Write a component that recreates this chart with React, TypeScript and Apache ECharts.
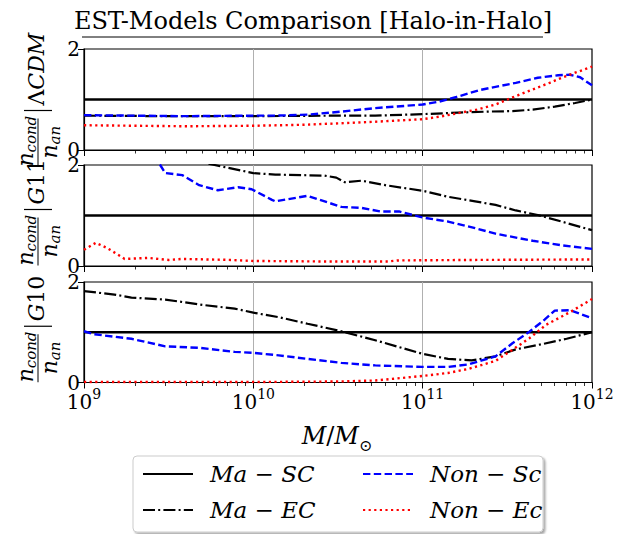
import React, { useEffect, useRef } from "react";
import * as echarts from "echarts";

const FONT = "DejaVu Serif";

// x values are log10(M / M_sun)
const decades = [9, 10, 11, 12];
const minorMultipliers = [2, 3, 4, 5, 6, 7, 8, 9];
const seriesNames = ["Ma − SC", "Ma − EC", "Non − Sc", "Non − Ec"];

// Panel 1: ΛCDM
const maSC_LCDM = [[9, 1], [12, 1]];
const maEC_LCDM = [[9, 0.68], [9.5, 0.67], [10, 0.67], [10.5, 0.68], [10.72, 0.68], [11, 0.71], [11.21, 0.74], [11.38, 0.76], [11.53, 0.77], [11.65, 0.8], [11.78, 0.86], [11.9, 0.93], [12, 1.0]];
const nonSc_LCDM = [[9, 0.69], [9.3, 0.68], [9.6, 0.67], [10, 0.68], [10.13, 0.68], [10.32, 0.7], [10.52, 0.76], [10.72, 0.83], [11, 0.9], [11.1, 0.96], [11.2, 1.05], [11.34, 1.19], [11.43, 1.25], [11.55, 1.33], [11.68, 1.43], [11.8, 1.48], [11.87, 1.49], [11.93, 1.44], [12, 1.28]];
const nonEc_LCDM = [[9, 0.49], [9.3, 0.48], [9.6, 0.47], [10, 0.48], [10.3, 0.5], [10.52, 0.53], [10.72, 0.56], [11, 0.61], [11.1, 0.66], [11.21, 0.73], [11.32, 0.8], [11.43, 0.9], [11.53, 1.04], [11.65, 1.2], [11.75, 1.33], [11.82, 1.43], [11.9, 1.53], [12, 1.65]];

// Panel 2: G11
const maSC_G11 = [[9, 1], [12, 1]];
const maEC_G11 = [[9.5, 2.2], [9.77, 2.0], [10.0, 1.84], [10.13, 1.81], [10.42, 1.79], [10.49, 1.75], [10.54, 1.66], [10.64, 1.69], [10.78, 1.6], [11, 1.49], [11.15, 1.37], [11.31, 1.28], [11.43, 1.21], [11.55, 1.1], [11.68, 1.01], [11.82, 0.88], [12, 0.71]];
const nonSc_G11 = [[9.4, 2.15], [9.45, 2.0], [9.48, 1.84], [9.58, 1.8], [9.68, 1.6], [9.79, 1.5], [9.91, 1.56], [9.99, 1.52], [10.11, 1.31], [10.13, 1.28], [10.32, 1.39], [10.52, 1.17], [10.64, 1.15], [10.75, 1.08], [10.86, 1.08], [11, 0.96], [11.15, 0.88], [11.31, 0.75], [11.43, 0.64], [11.65, 0.5], [11.82, 0.41], [12, 0.34]];
const nonEc_G11 = [[9, 0.32], [9.07, 0.46], [9.14, 0.35], [9.24, 0.14], [9.38, 0.16], [9.5, 0.12], [9.58, 0.14], [9.87, 0.12], [10, 0.1], [10.4, 0.09], [10.8, 0.09], [10.85, 0.11], [11.3, 0.12], [12, 0.13]];

// Panel 3: G10
const maSC_G10 = [[9, 1], [12, 1]];
const maEC_G10 = [[9, 1.82], [9.18, 1.75], [9.28, 1.69], [9.48, 1.65], [9.71, 1.54], [9.89, 1.47], [10, 1.39], [10.15, 1.3], [10.32, 1.17], [10.52, 1.02], [10.72, 0.84], [11, 0.57], [11.15, 0.47], [11.29, 0.44], [11.43, 0.52], [11.55, 0.66], [11.7, 0.76], [11.85, 0.87], [12, 1.0]];
const nonSc_G10 = [[9, 1.02], [9.06, 0.96], [9.28, 0.87], [9.48, 0.72], [9.68, 0.69], [9.89, 0.61], [10, 0.59], [10.15, 0.54], [10.32, 0.47], [10.52, 0.39], [10.72, 0.34], [11, 0.31], [11.15, 0.31], [11.27, 0.36], [11.35, 0.44], [11.43, 0.52], [11.53, 0.78], [11.63, 1.01], [11.72, 1.25], [11.78, 1.43], [11.87, 1.44], [12, 1.28]];
const nonEc_G10 = [[9, 0.01], [10, 0.01], [10.5, 0.02], [10.72, 0.04], [11, 0.13], [11.15, 0.19], [11.27, 0.27], [11.43, 0.43], [11.53, 0.65], [11.63, 0.88], [11.73, 1.15], [11.87, 1.4], [12, 1.66]];

const panelTags = ["LCDM", "G11", "G10"];
const panelData = [
  [maSC_LCDM, maEC_LCDM, nonSc_LCDM, nonEc_LCDM],
  [maSC_G11, maEC_G11, nonSc_G11, nonEc_G11],
  [maSC_G10, maEC_G10, nonSc_G10, nonEc_G10],
];

const gridTops = [49, 165, 282];
const gridHeights = [101, 101, 100.5];
const GRID_LEFT = 84;
const GRID_WIDTH = 508;

const lineStyles = [
  { color: "#000000", width: 2.4, type: "solid" },
  { color: "#000000", width: 2.2, type: [12, 3.2, 2, 3.2] },
  { color: "#0000ff", width: 2.4, type: [7.4, 3.4] },
  { color: "#ff0000", width: 2.4, type: [2.2, 3.4] },
];

function makeYLabel(i: number): any {
  const top = gridTops[i];
  const h = gridHeights[i];
  const cy = top + h / 2;
  const tag = panelTags[i];
  const restW = tag === "LCDM" ? 80 : 46;
  const fracW = 48;
  const total = fracW + 6 + restW;
  const fc = -total / 2 + fracW / 2;
  const restStart = -total / 2 + fracW + 6;
  const italic = { fontFamily: FONT, fontStyle: "italic", fill: "#000" };
  const restRich =
    tag === "LCDM"
      ? { text: "{u|Λ}{i|CDM}" }
      : { text: "{i|G}{u|" + tag.slice(1) + "}" };
  return {
    type: "group",
    x: 38,
    y: cy,
    rotation: Math.PI / 2,
    children: [
      { type: "text", x: fc - 24, y: -13, style: { ...italic, text: "n", fontSize: 22, verticalAlign: "middle", align: "left" } },
      { type: "text", x: fc - 10, y: -7, style: { ...italic, text: "cond", fontSize: 15, verticalAlign: "middle", align: "left" } },
      { type: "line", shape: { x1: fc - fracW / 2, y1: 0, x2: fc + fracW / 2, y2: 0 }, style: { stroke: "#000", lineWidth: 1 } },
      { type: "text", x: fc - 16, y: 11, style: { ...italic, text: "n", fontSize: 22, verticalAlign: "middle", align: "left" } },
      { type: "text", x: fc - 2, y: 17, style: { ...italic, text: "an", fontSize: 15, verticalAlign: "middle", align: "left" } },
      { type: "line", shape: { x1: restStart + 2, y1: -14, x2: restStart + 2, y2: 14 }, style: { stroke: "#000", lineWidth: 1.2 } },
      {
        type: "text",
        x: restStart + 7,
        y: -2,
        style: {
          ...restRich,
          verticalAlign: "middle",
          align: "left",
          rich: {
            u: { fontFamily: FONT, fontSize: 22, fill: "#000" },
            i: { fontFamily: FONT, fontSize: 22, fontStyle: "italic", fill: "#000" },
          },
        },
      },
    ],
  };
}

export default function App() {
  const ref = useRef<HTMLDivElement>(null);
  useEffect(() => {
    if (!ref.current) return;
    const chart = echarts.init(ref.current, null, { renderer: "svg" });
    const minorTicks: number[] = [];
    for (let d = decades[0]; d < decades[decades.length - 1]; d++)
      minorMultipliers.forEach((k) => minorTicks.push(d + Math.log10(k)));

    const grid = gridTops.map((t, i) => ({
      left: GRID_LEFT,
      top: t,
      width: GRID_WIDTH,
      height: gridHeights[i],
      show: true,
      borderColor: "#000",
      borderWidth: 1.2,
      backgroundColor: "transparent",
    }));

    const xMain = gridTops.map((_, i) => ({
      type: "value",
      gridIndex: i,
      min: 9,
      max: 12,
      interval: 1,
      axisLine: { show: true, onZero: false, lineStyle: { color: "#000", width: 1.2 } },
      axisTick: { show: true, inside: false, length: 6, lineStyle: { color: "#000", width: 1 } },
      splitLine: { show: true, showMinLine: false, showMaxLine: false, lineStyle: { color: "#b0b0b0", width: 1 } },
      axisLabel: {
        show: i === 2,
        margin: 4,
        formatter: (v: number) => `{b|10}{s|${v}}`,
        rich: {
          b: { fontFamily: FONT, fontSize: 20, color: "#000", lineHeight: 30 },
          s: { fontFamily: FONT, fontSize: 14, color: "#000", verticalAlign: "top" },
        },
      },
    }));
    const xMinor = gridTops.map((_, i) => ({
      type: "value",
      gridIndex: i,
      min: 9,
      max: 12,
      interval: 1,
      position: "bottom",
      axisLine: { show: false },
      axisTick: { show: true, inside: false, length: 3.5, customValues: minorTicks, lineStyle: { color: "#000", width: 0.8 } },
      splitLine: { show: false },
      axisLabel: { show: false },
    }));

    const yAxes = gridTops.map((_, i) => ({
      type: "value",
      gridIndex: i,
      min: 0,
      max: 2,
      interval: 2,
      axisLine: { show: true, lineStyle: { color: "#000", width: 1.2 } },
      axisTick: { show: true, inside: false, length: 6, lineStyle: { color: "#000", width: 1 } },
      splitLine: { show: false },
      axisLabel: { fontFamily: FONT, fontSize: 20, color: "#000", margin: 4 },
    }));

    const series: any[] = [];
    panelData.forEach((group, i) => {
      group.forEach((data, k) => {
        series.push({
          type: "line",
          name: seriesNames[k],
          xAxisIndex: i,
          yAxisIndex: i,
          data,
          symbol: "none",
          showSymbol: false,
          smooth: false,
          clip: true,
          lineStyle: lineStyles[k],
          itemStyle: { color: lineStyles[k].color },
          z: 2 + k,
        });
      });
    });

    chart.setOption({
      animation: false,
      backgroundColor: "#ffffff",
      grid,
      xAxis: [...xMain, ...xMinor],
      yAxis: yAxes,
      series,
      legend: {
        show: true,
        selectedMode: false,
        data: [seriesNames[0], seriesNames[2], seriesNames[1], seriesNames[3]],
        left: 142,
        top: 462,
        width: 440,
        orient: "horizontal",
        padding: 0,
        itemWidth: 50,
        itemHeight: 14,
        itemGap: 12,
        itemStyle: { opacity: 0, color: "rgba(0,0,0,0)", borderColor: "rgba(0,0,0,0)", borderWidth: 0 },
        textStyle: {
          fontFamily: FONT,
          fontStyle: "italic",
          fontSize: 23,
          color: "#000",
          width: 140,
          lineHeight: 24,
          padding: [0, 0, 0, 12],
        },
        z: 10,
      },
      graphic: [
        {
          type: "text",
          x: 313,
          y: 21,
          style: { text: "EST-Models Comparison [Halo-in-Halo]", fontFamily: FONT, fontSize: 24, fill: "#000", align: "center", verticalAlign: "middle" },
        },
        { type: "line", shape: { x1: 82, y1: 37, x2: 543, y2: 37 }, style: { stroke: "#000", lineWidth: 1 } },
        {
          type: "text",
          x: 337,
          y: 436,
          style: {
            text: "{i|M}{u|/}{i|M}{s|⊙}",
            align: "center",
            verticalAlign: "middle",
            rich: {
              i: { fontFamily: FONT, fontSize: 24, fontStyle: "italic", fill: "#000", lineHeight: 34 },
              u: { fontFamily: FONT, fontSize: 24, fill: "#000", lineHeight: 34 },
              s: { fontFamily: FONT, fontSize: 16, fill: "#000", verticalAlign: "bottom" },
            },
          },
        },
        {
          type: "rect",
          z: 1,
          shape: { x: 133, y: 456, width: 410, height: 76, r: 4 },
          style: { fill: "#ffffff", stroke: "#cccccc", lineWidth: 1, shadowBlur: 2, shadowOffsetX: 2, shadowOffsetY: 2, shadowColor: "rgba(0,0,0,0.35)" },
        },
        makeYLabel(0),
        makeYLabel(1),
        makeYLabel(2),
      ],
    });
    return () => chart.dispose();
  }, []);
  return (
    <div
      ref={ref}
      style={{ position: "fixed", left: 0, top: 0, width: 628, height: 534, background: "#fff" }}
    />
  );
}
